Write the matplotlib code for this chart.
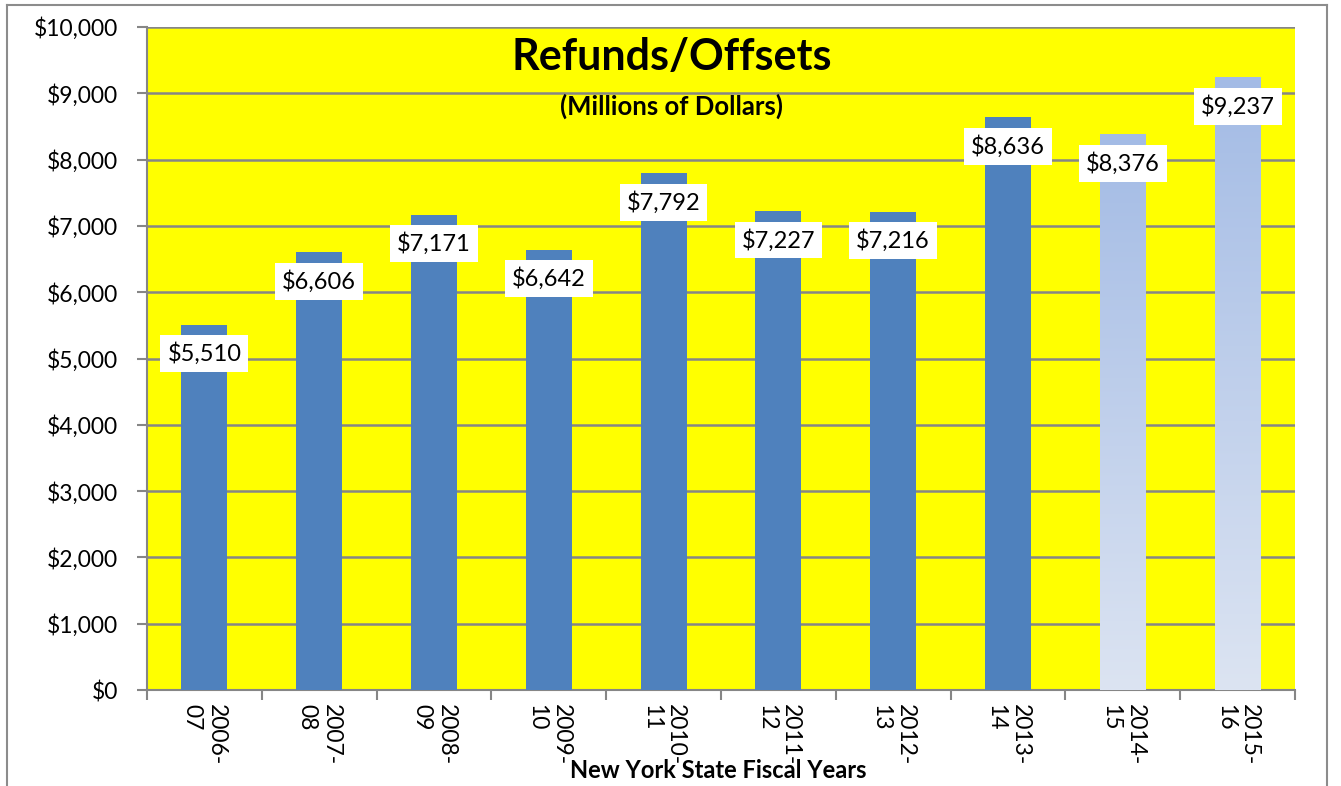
import numpy as np
from matplotlib import pyplot as plt
from matplotlib.colors import LinearSegmentedColormap
from matplotlib.lines import Line2D

plt.rcParams["font.family"] = ["Lato", "DejaVu Sans"]

years = ["2006-\n07", "2007-\n08", "2008-\n09", "2009-\n10", "2010-\n11",
         "2011-\n12", "2012-\n13", "2013-\n14", "2014-\n15", "2015-\n16"]
refunds = [5510, 6606, 7171, 6642, 7792, 7227, 7216, 8636, 8376, 9237]
projected = [False] * 8 + [True, True]

BAR_BLUE = "#4f81bd"
GRAD_CMAP = LinearSegmentedColormap.from_list("proj", ["#dce4f2", "#a3bbe5"])

W, H = 1341, 786
fig = plt.figure(figsize=(W / 100, H / 100), dpi=100)
ax = fig.add_axes([147 / W, 1 - 690 / H, (1295 - 147) / W, (690 - 27) / H])
ax.set_facecolor("#ffff00")

x = np.arange(len(refunds))
bw = 0.4
bars = ax.bar(x, refunds, width=bw, color=BAR_BLUE, zorder=3)
grad = np.linspace(0, 1, 256).reshape(-1, 1)
for b, p in zip(bars, projected):
    if p:
        b.set_alpha(0)
        ax.imshow(grad, cmap=GRAD_CMAP, origin="lower", aspect="auto", zorder=3,
                  extent=[b.get_x(), b.get_x() + bw, 0, b.get_height()])

for xi, v in zip(x, refunds):
    ax.annotate(f"${v:,}", (xi, v), xytext=(0, -21), textcoords="offset points",
                ha="center", va="center", fontsize=17, zorder=5,
                bbox=dict(boxstyle="square,pad=0.3", fc="white", ec="none"))

ax.set_xlim(-0.5, len(refunds) - 0.5)
ax.set_ylim(0, 10000)
ax.set_yticks(np.arange(0, 10001, 1000))
ax.set_yticklabels([f"${v:,}" for v in range(0, 10001, 1000)], fontsize=16.5)
ax.yaxis.grid(True, color="#868686", lw=1.8, zorder=1)
ax.set_axisbelow(True)

ax.set_xticks(np.arange(len(refunds) + 1) - 0.5)
ax.set_xticklabels([])
ax.set_xticks(x, minor=True)
ax.set_xticklabels(years, minor=True, rotation=270, fontsize=16.5,
                   va="top", ha="center", multialignment="left")
ax.tick_params(axis="x", which="minor", length=0, pad=10)
ax.tick_params(axis="x", which="major", length=7, color="#868686", width=1.5)
ax.tick_params(axis="y", length=7, color="#868686", width=1.5, pad=14)

for s in ["top", "right"]:
    ax.spines[s].set_visible(False)
for s in ["left", "bottom"]:
    ax.spines[s].set_color("#868686")
    ax.spines[s].set_linewidth(1.5)

fig.text(672 / W, 1 - 57 / H, "Refunds/Offsets", ha="center",
         va="center", fontsize=31, fontweight="bold", zorder=6)
fig.text(672 / W, 1 - 106 / H, "(Millions of Dollars)", ha="center",
         va="center", fontsize=18.5, fontweight="bold", zorder=6)

fig.text(718 / W, 1 - 770 / H, "New York State Fiscal Years", ha="center",
         va="center", fontsize=17, fontweight="bold")

# chart border
fig.add_artist(Line2D([7 / W, 7 / W], [0, 1 - 5 / H], color="#8c8c8c", lw=1.5))
fig.add_artist(Line2D([7 / W, 1327 / W], [1 - 5 / H, 1 - 5 / H], color="#8c8c8c", lw=1.5))
fig.add_artist(Line2D([1327 / W, 1327 / W], [1 - 5 / H, 0], color="#8c8c8c", lw=1.5))

fig.savefig("out.png", dpi=100)
